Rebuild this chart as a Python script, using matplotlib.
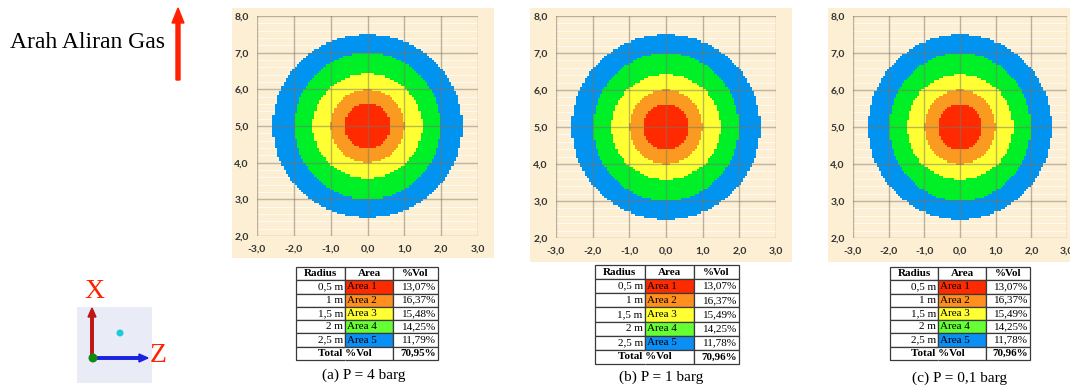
import numpy as np
import matplotlib
matplotlib.use("Agg")
import matplotlib.pyplot as plt
from matplotlib.colors import ListedColormap
from matplotlib.patches import Rectangle, FancyArrow, Ellipse

# ---------------- data ----------------
area_labels = ['Area 1', 'Area 2', 'Area 3', 'Area 4', 'Area 5']
radius_labels = ['0,5 m', '1 m', '1,5 m', '2 m', '2,5 m']
vol_a = ['13,07%', '16,37%', '15,48%', '14,25%', '11,79%']
vol_b = ['13,07%', '16,37%', '15,49%', '14,25%', '11,78%']
vol_c = ['13,07%', '16,37%', '15,49%', '14,25%', '11,78%']
totals = ['70,95%', '70,96%', '70,96%']
captions = ['(a) P = 4 barg', '(b) P = 1 barg', '(c) P = 0,1 barg']
center_x = 0.0
center_y = 5.0
extent_x = [0.62, 1.00, 1.48, 1.98, 2.57]   # half-width of each area
extent_y = [0.62, 1.00, 1.42, 2.00, 2.50]   # half-height of each area
xticks = [-3.0, -2.0, -1.0, 0.0, 1.0, 2.0, 3.0]
yticks = [2.0, 3.0, 4.0, 5.0, 6.0, 7.0, 8.0]

plot_colors = ['#FF2A00', '#FA9A20', '#FFFF33', '#00F028', '#0094F0']
table_colors = ['#FF2B00', '#FF8F1F', '#FFFF33', '#66FF33', '#0A8FF5']

# ---------------- layout helpers ----------------
W, H = 1070, 385
fig = plt.figure(figsize=(W / 100, H / 100), dpi=100)
fig.patch.set_facecolor('white')


def box(x0, y0, x1, y1):
    return [x0 / W, 1 - y1 / H, (x1 - x0) / W, (y1 - y0) / H]


def fx(px):
    return px / W


def fy(py):
    return 1 - py / H


BEIGE = '#FCEFD3'
panel_boxes = [(232, 8, 494, 258), (530, 8, 792, 262), (828, 8, 1070, 262)]
axes_boxes = [(257, 16, 478, 236), (556, 16, 776, 238), (853, 16, 1067, 238)]
table_boxes = [(296, 267, 438, 360), (595, 265, 739, 364), (890, 267, 1030, 360)]
caption_pos = [(364, 375), (661, 377), (960, 378)]
vols = [vol_a, vol_b, vol_c]

for pb in panel_boxes:
    x0, y0, x1, y1 = pb
    fig.patches.append(Rectangle((fx(x0), fy(y1)), (x1 - x0) / W, (y1 - y0) / H,
                                 transform=fig.transFigure, facecolor=BEIGE,
                                 edgecolor='none', zorder=-5))

cmap = ListedColormap(plot_colors)
xs = np.arange(-3.0, 3.0001, 0.06)
ys = np.arange(2.0, 8.0001, 0.06)
XX, YY = np.meshgrid((xs[:-1] + xs[1:]) / 2, (ys[:-1] + ys[1:]) / 2)

for k in range(3):
    ax = fig.add_axes(box(*axes_boxes[k]))
    ax.set_facecolor(BEIGE)
    Z = np.full(XX.shape, np.nan)
    for i in range(len(area_labels) - 1, -1, -1):
        inside = ((XX - center_x) / extent_x[i]) ** 2 + ((YY - center_y) / extent_y[i]) ** 2 <= 1.0
        Z[inside] = i
    ax.pcolormesh(xs, ys, np.ma.masked_invalid(Z), cmap=cmap, vmin=-0.5, vmax=4.5,
                  zorder=1, shading='flat')
    ax.set_xlim(-3, 3)
    ax.set_ylim(2, 8)
    for yv in np.arange(2.0, 8.0, 0.2):
        ax.axhline(yv, color='white', lw=0.8, alpha=0.7, zorder=0.5)
    for xv in xticks:
        ax.axvline(xv, color='#7A7468', lw=1.0, alpha=0.5, zorder=2)
    for yv in yticks:
        ax.axhline(yv, color='#7A7468', lw=1.0, alpha=0.5, zorder=2)
    ax.set_xticks(xticks)
    ax.set_yticks(yticks)
    ax.set_xticklabels([f'{v:.1f}'.replace('.', ',') for v in xticks])
    ax.set_yticklabels([f'{v:.1f}'.replace('.', ',') for v in yticks])
    ax.tick_params(length=0, labelsize=7.5, colors='#333333', pad=6)
    for lab in ax.get_xticklabels() + ax.get_yticklabels():
        lab.set_family('Lato')
        lab.set_fontweight('bold')
    for s in ax.spines.values():
        s.set_visible(False)

    # ---- table ----
    tax = fig.add_axes(box(*table_boxes[k]))
    tax.axis('off')
    cell_text = [['Radius', 'Area', '%Vol']]
    cell_col = [['white', 'white', 'white']]
    for i in range(len(area_labels)):
        cell_text.append([radius_labels[i], area_labels[i], vols[k][i]])
        cell_col.append(['white', table_colors[i], 'white'])
    cell_text.append(['', '', totals[k]])
    cell_col.append(['white', 'white', 'white'])
    colw = [0.345, 0.34, 0.315]
    tb = tax.table(cellText=cell_text, cellColours=cell_col, colWidths=colw,
                   bbox=[0, 0, 1, 1], cellLoc='center')
    tb.auto_set_font_size(False)
    nrows = len(cell_text)
    for (r, c), cell in tb.get_celld().items():
        cell.set_edgecolor('#3A3A3A')
        cell.set_linewidth(0.9)
        cell.PAD = 0.04
        t = cell.get_text()
        t.set_fontfamily('Liberation Serif')
        t.set_fontsize(8)
        if r == 0 or r == nrows - 1:
            t.set_fontweight('bold')
        if 0 < r < nrows - 1:
            t.set_horizontalalignment(['right', 'left', 'right'][c])
        if r == nrows - 1:
            t.set_horizontalalignment('right' if c == 2 else 'center')
            if c == 0:
                cell.visible_edges = 'BLT'
            elif c == 1:
                cell.visible_edges = 'BRT'
    tax.text(colw[0], 0.5 / nrows, 'Total %Vol', ha='center', va='center',
             fontfamily='Liberation Serif', fontsize=8, fontweight='bold',
             transform=tax.transAxes)

    fig.text(fx(caption_pos[k][0]), fy(caption_pos[k][1]), captions[k],
             ha='center', va='center', fontfamily='Liberation Serif', fontsize=11)

# ---------------- left annotations ----------------
fig.text(fx(10), fy(43), 'Arah Aliran Gas', ha='left', va='center',
         fontfamily='Liberation Serif', fontsize=17, color='black')
fig.patches.append(FancyArrow(fx(178), fy(80), 0, (80 - 8) / H, width=4 / W,
                              head_width=12 / W, head_length=15 / H,
                              length_includes_head=True, transform=fig.transFigure,
                              color='#FF2200', zorder=5))

# axis icon
fig.patches.append(Rectangle((fx(77), fy(383)), 75 / W, 76 / H, transform=fig.transFigure,
                             facecolor='#E9EBF7', edgecolor='none', zorder=1))
fig.patches.append(FancyArrow(fx(92), fy(358), 0, 50 / H, width=2.5 / W,
                              head_width=8 / W, head_length=9 / H,
                              length_includes_head=True, transform=fig.transFigure,
                              color='#C01515', zorder=3))
fig.patches.append(FancyArrow(fx(92), fy(358), 56 / W, 0, width=2.5 / H,
                              head_width=8 / H, head_length=9 / W,
                              length_includes_head=True, transform=fig.transFigure,
                              color='#1A22E0', zorder=3))
fig.text(fx(94), fy(292), 'X', ha='center', va='center', fontfamily='Liberation Serif',
         fontsize=20, color='#FF2200')
fig.text(fx(158), fy(355), 'Z', ha='center', va='center', fontfamily='Liberation Serif',
         fontsize=20, color='#FF2200')
fig.add_artist(Ellipse((fx(93), fy(358)), 9 / W, 9 / H, transform=fig.transFigure,
                       facecolor='#108A10', edgecolor='none', zorder=4))
fig.add_artist(Ellipse((fx(120), fy(333)), 7 / W, 7 / H, transform=fig.transFigure,
                       facecolor='#1ECAD8', edgecolor='none', zorder=4))

fig.savefig('out.png', dpi=100, facecolor='white')
